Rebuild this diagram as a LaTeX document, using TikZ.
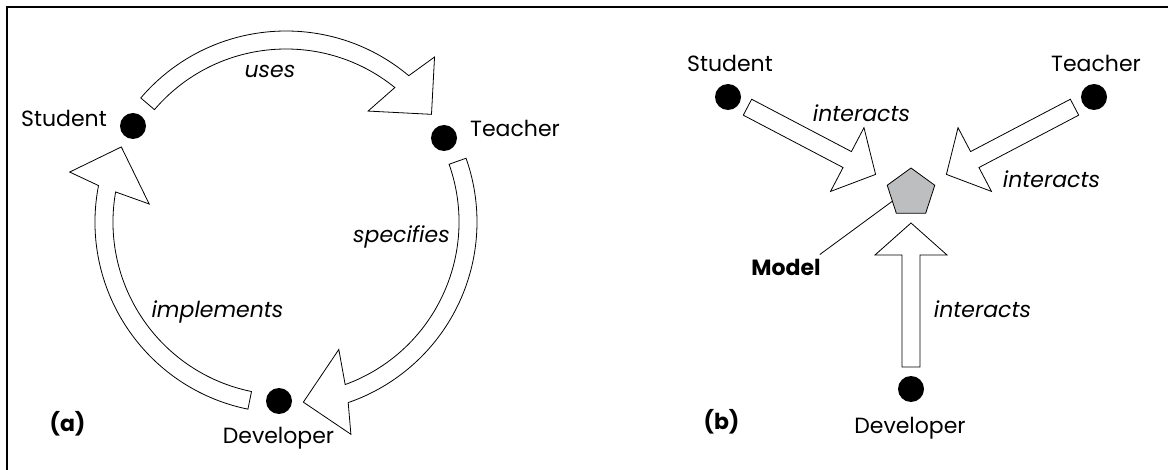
\documentclass[tikz,border=0pt]{standalone}
\usepackage{fontspec}
\setmainfont{Poppins}
\usetikzlibrary{calc,shapes.geometric}

\definecolor{modelgray}{HTML}{BDBEC0}

% hollow block arrow from #1 (tail) to #2 (tip)
\newcommand{\blockarrow}[2]{%
  \coordinate (ba) at ($(#2)!32pt!(#1)$);
  \draw[blk] ($(#1)!9pt!90:(#2)$) -- ($(ba)!9pt!-90:(#1)$) -- ($(ba)!36pt!-90:(#1)$) -- (#2)
    -- ($(ba)!36pt!90:(#1)$) -- ($(ba)!9pt!90:(#1)$) -- ($(#1)!9pt!-90:(#2)$) -- cycle;}

\tikzset{
  dot/.style={circle, fill=black, inner sep=0pt, minimum size=26pt},
  blk/.style={draw, line width=0.8pt, fill=white},
  lbl/.style={inner sep=0pt, font=\fontsize{22}{26}\selectfont},
  itl/.style={inner sep=0pt, font=\fontsize{22}{26}\selectfont\itshape},
  bld/.style={inner sep=0pt, font=\fontsize{22}{26}\selectfont\bfseries},
  model/.style={regular polygon, regular polygon sides=5, minimum size=50pt, inner sep=0pt,
    draw, line width=0.8pt, fill=modelgray}
}

\begin{document}
\begin{tikzpicture}[x=1pt, y=1pt]
  \useasboundingbox (0,0) rectangle (1168,-470);
  \draw[line width=2pt] (7,-470) -- (7,-7) -- (1168,-7);

  % (a) the cycle
  \begin{scope}[shift={(286,-222)}]
    \draw[blk] (139.5:191) arc (139.5:50:191) -- (48:222) -- (36.5:181) -- (53.5:138)
      -- (51:173) arc (51:139.5:173) -- cycle;
    \draw[blk] (19.5:191) arc (19.5:-71:191) -- (-73:222) -- (-84.5:181) -- (-67.5:138)
      -- (-70:173) arc (-70:19.5:173) -- cycle;
    \draw[blk] (-101.5:191) arc (-101.5:-191:191) -- (-193:222) -- (-204.5:181) -- (-187.5:138)
      -- (-190:173) arc (-190:-101.5:173) -- cycle;
  \end{scope}

  \node[dot] (sa) at (133,-126) {};
  \node[dot] (ta) at (444,-138) {};
  \node[dot] (da) at (279,-401) {};
  \node[lbl, anchor=base east] (salabel) at (107,-127) {Student};
  \node[lbl, anchor=base west] (talabel) at (470,-137) {Teacher};
  \node[lbl, anchor=base] (dalabel) at (278.5,-443) {Developer};
  \node[itl, anchor=base] (uses) at (270,-78) {uses};
  \node[itl, anchor=base] (specifies) at (401.5,-243) {specifies};
  \node[itl, anchor=base] (implements) at (217.5,-318) {implements};
  \node[bld] (tagA) at (67.5,-424) {(a)};

  % (b) the shared model
  \node[model] (model) at (911,-193) {};
  \node[dot] (sb) at (728,-97) {};
  \node[dot] (tb) at (1094,-97) {};
  \node[dot] (db) at (911,-389) {};
  \node[lbl, anchor=base] (sblabel) at (730,-72) {Student};
  \node[lbl, anchor=base] (tblabel) at (1096,-72) {Teacher};
  \node[lbl, anchor=base] (dblabel) at (910,-433) {Developer};
  \node[bld, anchor=base] (mlabel) at (786,-276) {Model};
  \draw[line width=0.8pt] (model.204) -- ([shift={(-1pt,5pt)}]mlabel.north east);

  \coordinate (s1) at ($(sb)!22pt!(model)$);
  \coordinate (s2) at ($(model)!40pt!(sb)$);
  \coordinate (t1) at ($(tb)!22pt!(model)$);
  \coordinate (t2) at ($(model)!40pt!(tb)$);
  \coordinate (d1) at ($(db)!22pt!(model)$);
  \coordinate (d2) at ($(model)!30pt!(db)$);
  \blockarrow{s1}{s2}
  \blockarrow{t1}{t2}
  \blockarrow{d1}{d2}

  \node[itl, anchor=base] (sint) at (861.5,-122) {interacts};
  \node[itl, anchor=base] (tint) at (1051.5,-188) {interacts};
  \node[itl, anchor=base] (dint) at (982.5,-317.5) {interacts};
  \node[bld] (tagB) at (721.5,-421.5) {(b)};
\end{tikzpicture}
\end{document}
